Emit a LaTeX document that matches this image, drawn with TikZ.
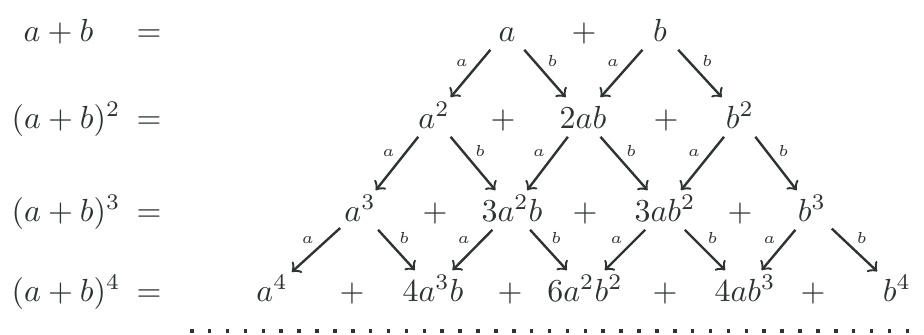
\documentclass[tikz,border=0pt]{standalone}
\usepackage{amsmath}
\usepackage{xcolor}
\usepackage{tikz}
\definecolor{ink}{RGB}{46,52,48}

\begin{document}
\begin{tikzpicture}[x=0.011cm,y=-0.011cm,
  every node/.style={text=ink},
  term/.style={inner sep=1pt,minimum size=12pt,text height=8pt,text depth=1pt},
  lhs/.style={anchor=base west,inner sep=0pt},
  eqs/.style={anchor=base,inner sep=0pt},
  la/.style={pos=0.45,above left,inner sep=1pt,font=\tiny},
  lb/.style={pos=0.45,above right,inner sep=1pt,font=\tiny},
  arr/.style={->,draw=ink,line width=0.75pt}]
\useasboundingbox (0,0) rectangle (924,334);

% left column
\node[lhs] (l1) at (23,41) {$a+b$};
\node[lhs] (l2) at (11,128) {$(a+b)^2$};
\node[lhs] (l3) at (11,221) {$(a+b)^3$};
\node[lhs] (l4) at (11,301) {$(a+b)^4$};
\node[eqs] (e1) at (149,41) {$=$};
\node[eqs] (e2) at (149,128) {$=$};
\node[eqs] (e3) at (149,221) {$=$};
\node[eqs] (e4) at (149,301) {$=$};

% row 1
\node[term] (a) at (507,30) {$a$};
\node[term] (p11) at (584,30) {$+$};
\node[term] (b) at (660,30) {$b$};

% row 2
\node[term] (aa) at (434,117) {$a^2$};
\node[term] (p21) at (503,117) {$+$};
\node[term] (ab) at (583,117) {$2ab$};
\node[term] (p22) at (666,117) {$+$};
\node[term] (bb) at (740,117) {$b^2$};

% row 3
\node[term] (aaa) at (360,210) {$a^3$};
\node[term] (p31) at (435,210) {$+$};
\node[term] (aab) at (512,210) {$3a^2b$};
\node[term] (p32) at (585,210) {$+$};
\node[term] (abb) at (665,210) {$3ab^2$};
\node[term] (p33) at (740,210) {$+$};
\node[term] (bbb) at (812,210) {$b^3$};

% row 4
\node[term] (aaaa) at (272,290) {$a^4$};
\node[term] (p41) at (352,290) {$+$};
\node[term] (aaab) at (433,290) {$4a^3b$};
\node[term] (p42) at (510,290) {$+$};
\node[term] (aabb) at (585,290) {$6a^2b^2$};
\node[term] (p43) at (665,290) {$+$};
\node[term] (abbb) at (745,290) {$4ab^3$};
\node[term] (p44) at (813,290) {$+$};
\node[term] (bbbb) at (897,290) {$b^4$};

% ========== arrows ==========
% row 1 -> row 2
\draw[arr] (a)--node[la]{$a$}(aa);
\draw[arr] (a)--node[lb]{$b$}(ab);
\draw[arr] (b)--node[la]{$a$}(ab);
\draw[arr] (b)--node[lb]{$b$}(bb);

% row 2 -> row 3
\draw[arr] (aa)--node[la]{$a$}(aaa);
\draw[arr] (aa)--node[lb]{$b$}(aab);
\draw[arr] (ab)--node[la]{$a$}(aab);
\draw[arr] (ab)--node[lb]{$b$}(abb);
\draw[arr] (bb)--node[la]{$a$}(abb);
\draw[arr] (bb)--node[lb]{$b$}(bbb);

% row 3 -> row 4
\draw[arr] (aaa)--node[la]{$a$}(aaaa);
\draw[arr] (aaa)--node[lb]{$b$}(aaab);
\draw[arr] (aab)--node[la]{$a$}(aaab);
\draw[arr] (aab)--node[lb]{$b$}(aabb);
\draw[arr] (abb)--node[la]{$a$}(aabb);
\draw[arr] (abb)--node[lb]{$b$}(abbb);
\draw[arr] (bbb)--node[la]{$a$}(abbb);
\draw[arr] (bbb)--node[lb]{$b$}(bbbb);

% dotted rule
\coordinate (r0) at (190,331);
\coordinate (r1) at (924,331);
\draw[ink,line width=1.1pt,dash pattern=on 1.1pt off 4.5pt] (r0)--(r1);
\end{tikzpicture}
\end{document}
